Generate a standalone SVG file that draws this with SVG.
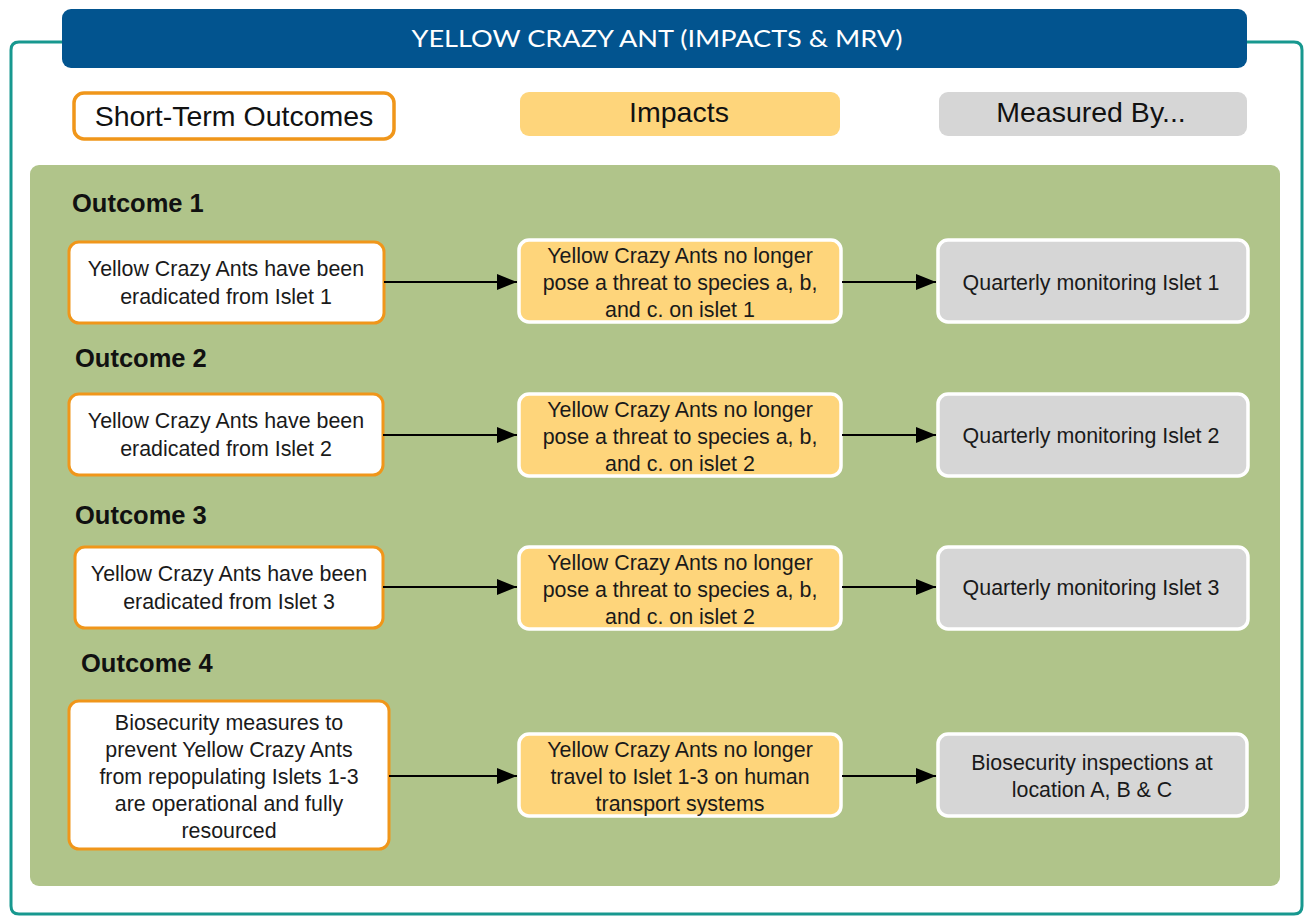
<svg xmlns="http://www.w3.org/2000/svg" width="1307" height="916" viewBox="0 0 1307 916">
  <defs>
    <marker id="arrow" viewBox="0 0 20 16" refX="20" refY="8" markerWidth="20" markerHeight="16" markerUnits="userSpaceOnUse" orient="auto">
      <path d="M0,0 L20,8 L0,16 Z" fill="#000"/>
    </marker>
    <style>
      .frame { fill: none; stroke: #17988f; stroke-width: 3; }
      .title-bar { fill: #02548f; }
      .title { font-family: "Lato", "Noto Sans", sans-serif; font-size: 24px; fill: #fff; text-anchor: middle; }
      .hdr { font-family: "Liberation Sans", Arial, sans-serif; font-size: 28.5px; fill: #111; text-anchor: middle; }
      .panel { fill: #b0c48a; }
      .outcome { font-family: "Liberation Sans", Arial, sans-serif; font-size: 25.5px; font-weight: bold; fill: #111; }
      .txt { font-family: "Liberation Sans", Arial, sans-serif; font-size: 21.4px; fill: #1a1a1a; text-anchor: middle; }
      .out-box { fill: #fff; stroke: #f0961a; stroke-width: 3; }
      .imp-box { fill: #fed57b; stroke: #fff; stroke-width: 3.5; }
      .mes-box { fill: #d6d6d6; stroke: #fff; stroke-width: 3.5; }
      .conn { stroke: #000; stroke-width: 2; fill: none; marker-end: url(#arrow); }
    </style>
  </defs>

  <rect width="1307" height="916" fill="#fff"/>

  <!-- outer frame hanging off the title bar -->
  <path class="frame" d="M62,42 H19 Q11,42 11,50 V906 Q11,914 19,914 H1294 Q1302,914 1302,906 V50 Q1302,42 1294,42 H1247"/>

  <g id="title">
    <rect class="title-bar" x="62" y="9" width="1185" height="59" rx="9"/>
    <text class="title" x="657" y="47" textLength="491" lengthAdjust="spacingAndGlyphs">YELLOW CRAZY ANT (IMPACTS &amp; MRV)</text>
  </g>

  <!-- column headers -->
  <g id="hdr-outcomes">
    <rect x="74" y="93" width="320" height="46" rx="10" fill="#fff" stroke="#f0961a" stroke-width="3.5"/>
    <text class="hdr" x="234" y="126">Short-Term Outcomes</text>
  </g>
  <g id="hdr-impacts">
    <rect x="520" y="92" width="320" height="44" rx="9" fill="#fed57b"/>
    <text class="hdr" x="679" y="122">Impacts</text>
  </g>
  <g id="hdr-measured">
    <rect x="939" y="92" width="308" height="44" rx="9" fill="#d6d6d6"/>
    <text class="hdr" x="1091" y="122">Measured By...</text>
  </g>

  <rect class="panel" x="30" y="165" width="1250" height="721" rx="9"/>

  <text class="outcome" x="72" y="212">Outcome 1</text>
  <text class="outcome" x="75" y="367">Outcome 2</text>
  <text class="outcome" x="75" y="524">Outcome 3</text>
  <text class="outcome" x="81" y="672">Outcome 4</text>

  <!-- row 1 -->
  <g id="o1">
    <rect class="out-box" x="69" y="242" width="315" height="81" rx="10"/>
    <text class="txt" x="226" y="276">Yellow Crazy Ants have been</text>
    <text class="txt" x="226" y="304">eradicated from Islet 1</text>
  </g>
  <g id="i1">
    <rect class="imp-box" x="519" y="240" width="322" height="82" rx="10"/>
    <text class="txt" x="680" y="263">Yellow Crazy Ants no longer</text>
    <text class="txt" x="680" y="290">pose a threat to species a, b,</text>
    <text class="txt" x="680" y="317">and c. on islet 1</text>
  </g>
  <g id="m1">
    <rect class="mes-box" x="938" y="240" width="310" height="82" rx="10"/>
    <text class="txt" x="1091" y="290">Quarterly monitoring Islet 1</text>
  </g>

  <!-- row 2 -->
  <g id="o2">
    <rect class="out-box" x="69" y="394" width="314" height="81" rx="10"/>
    <text class="txt" x="226" y="428">Yellow Crazy Ants have been</text>
    <text class="txt" x="226" y="456">eradicated from Islet 2</text>
  </g>
  <g id="i2">
    <rect class="imp-box" x="519" y="394" width="322" height="82" rx="10"/>
    <text class="txt" x="680" y="417">Yellow Crazy Ants no longer</text>
    <text class="txt" x="680" y="444">pose a threat to species a, b,</text>
    <text class="txt" x="680" y="471">and c. on islet 2</text>
  </g>
  <g id="m2">
    <rect class="mes-box" x="938" y="394" width="310" height="82" rx="10"/>
    <text class="txt" x="1091" y="443">Quarterly monitoring Islet 2</text>
  </g>

  <!-- row 3 -->
  <g id="o3">
    <rect class="out-box" x="75" y="547" width="308" height="81" rx="10"/>
    <text class="txt" x="229" y="581">Yellow Crazy Ants have been</text>
    <text class="txt" x="229" y="609">eradicated from Islet 3</text>
  </g>
  <g id="i3">
    <rect class="imp-box" x="519" y="547" width="322" height="82" rx="10"/>
    <text class="txt" x="680" y="570">Yellow Crazy Ants no longer</text>
    <text class="txt" x="680" y="597">pose a threat to species a, b,</text>
    <text class="txt" x="680" y="624">and c. on islet 2</text>
  </g>
  <g id="m3">
    <rect class="mes-box" x="938" y="547" width="310" height="82" rx="10"/>
    <text class="txt" x="1091" y="595">Quarterly monitoring Islet 3</text>
  </g>

  <!-- row 4 -->
  <g id="o4">
    <rect class="out-box" x="69" y="701" width="320" height="148" rx="10"/>
    <text class="txt" x="229" y="730">Biosecurity measures to</text>
    <text class="txt" x="229" y="757">prevent Yellow Crazy Ants</text>
    <text class="txt" x="229" y="784">from repopulating Islets 1-3</text>
    <text class="txt" x="229" y="811">are operational and fully</text>
    <text class="txt" x="229" y="838">resourced</text>
  </g>
  <g id="i4">
    <rect class="imp-box" x="519" y="734" width="322" height="82" rx="10"/>
    <text class="txt" x="680" y="757">Yellow Crazy Ants no longer</text>
    <text class="txt" x="680" y="784">travel to Islet 1-3 on human</text>
    <text class="txt" x="680" y="811">transport systems</text>
  </g>
  <g id="m4">
    <rect class="mes-box" x="938" y="734" width="309" height="82" rx="10"/>
    <text class="txt" x="1092" y="770">Biosecurity inspections at</text>
    <text class="txt" x="1092" y="797">location A, B &amp; C</text>
  </g>

  <g id="connectors">
    <line class="conn" x1="384" y1="282" x2="517" y2="282"/>
    <line class="conn" x1="842" y1="282" x2="936" y2="282"/>
    <line class="conn" x1="383" y1="435" x2="517" y2="435"/>
    <line class="conn" x1="842" y1="435" x2="936" y2="435"/>
    <line class="conn" x1="383" y1="587" x2="517" y2="587"/>
    <line class="conn" x1="842" y1="587" x2="936" y2="587"/>
    <line class="conn" x1="389" y1="776" x2="517" y2="776"/>
    <line class="conn" x1="842" y1="776" x2="936" y2="776"/>
  </g>
</svg>
